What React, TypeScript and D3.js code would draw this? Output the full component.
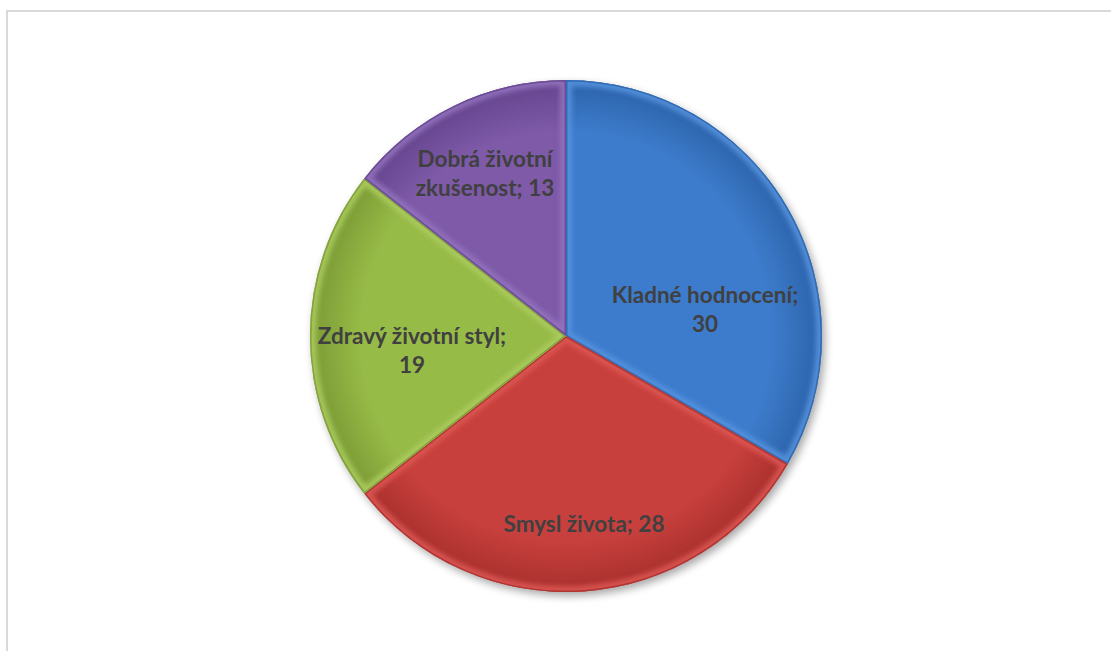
import React from "react";
import * as d3 from "d3";

const categories = ["Kladné hodnocení", "Smysl života", "Zdravý životní styl", "Dobrá životní zkušenost"];
const values = [30, 28, 19, 13];
const labelLines = [
  ["Kladné hodnocení;", "30"],
  ["Smysl života; 28"],
  ["Zdravý životní styl;", "19"],
  ["Dobrá životní", "zkušenost; 13"],
];
const colors = ["#3d7ccc", "#c8403d", "#97bb47", "#7e5aa8"];
const lightColors = ["#5592dd", "#dc5753", "#aacb5e", "#9372bd"];
const darkColors = ["#2c63aa", "#a8302d", "#7b9a35", "#65448d"];
const labelOffsets: [number, number][] = [
  [139, -33],
  [18, 196],
  [-154, 8],
  [-81, -169],
];

export default function App() {
  const W = 1111, H = 651;
  const cx = 566, cy = 336, r = 256;
  const pie = d3.pie<number>().sort(null).startAngle(0).endAngle(2 * Math.PI);
  const arcs = pie(values);
  const arc = d3.arc<d3.PieArcDatum<number>>().innerRadius(0).outerRadius(r);
  return (
    <svg width={W} height={H} style={{ position: "absolute", left: 0, top: 0 }}>
      <defs>
        <filter id="shadow" x="-20%" y="-20%" width="140%" height="140%">
          <feGaussianBlur in="SourceAlpha" stdDeviation="4" />
          <feOffset dx="3" dy="4" result="b" />
          <feComponentTransfer><feFuncA type="linear" slope="0.35" /></feComponentTransfer>
        </filter>
        <filter id="blur"><feGaussianBlur stdDeviation="2.5" /></filter>
        {colors.map((c, i) => (
          <radialGradient key={i} id={`g${i}`} gradientUnits="userSpaceOnUse" cx={0} cy={0} r={r}>
            <stop offset="0%" stopColor={colors[i]} />
            <stop offset="80%" stopColor={colors[i]} />
            <stop offset="100%" stopColor={darkColors[i]} />
          </radialGradient>
        ))}
        {arcs.map((a, i) => (
          <clipPath key={i} id={`c${i}`}><path d={arc(a) || ""} /></clipPath>
        ))}
      </defs>
      <rect x={7} y={11} width={W + 10} height={H + 10} fill="#fff" stroke="#d9d9d9" strokeWidth={2} />
      <g transform={`translate(${cx},${cy})`}>
        <circle r={r} fill="#000" filter="url(#shadow)" />
        {arcs.map((a, i) => (
          <g key={i}>
            <path d={arc(a) || ""} fill={`url(#g${i})`} />
            <g clipPath={`url(#c${i})`}>
              <path d={arc(a) || ""} fill="none" stroke={lightColors[i]} strokeWidth={12} filter="url(#blur)" opacity={0.9} />
              <path d={arc(a) || ""} fill="none" stroke={darkColors[i]} strokeWidth={3} opacity={0.8} />
            </g>
          </g>
        ))}
        {arcs.map((a, i) => (
          <text key={i} x={labelOffsets[i][0]} y={labelOffsets[i][1]} textAnchor="middle"
            fontFamily="Lato, 'Open Sans', sans-serif" fontWeight={700} fontSize={22.5} fill="#404040">
            {labelLines[i].map((l, j) => (
              <tspan key={j} x={labelOffsets[i][0]} dy={j === 0 ? 0 : 29}>{l}</tspan>
            ))}
          </text>
        ))}
      </g>
    </svg>
  );
}
